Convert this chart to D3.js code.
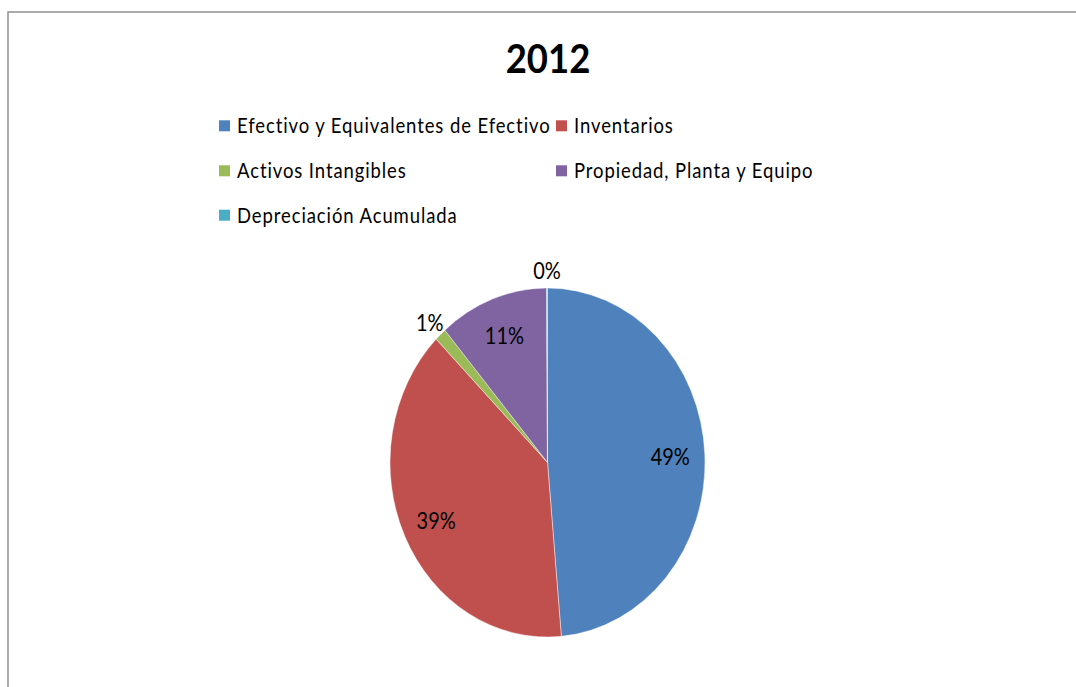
<!DOCTYPE html>
<html>
<head>
<meta charset="utf-8">
<script src="https://cdn.jsdelivr.net/npm/d3@7"></script>
<style>
  html, body { margin: 0; padding: 0; background: #fff; }
  svg { display: block; }
  text { font-family: Lato, "Open Sans", sans-serif; fill: #000; }
</style>
</head>
<body>
<svg id="chart" width="1076" height="687"></svg>
<script>
// Balance composition, 2012 (share of total, %)
const title = "2012";
const categories = [
  "Efectivo y Equivalentes de Efectivo",
  "Inventarios",
  "Activos Intangibles",
  "Propiedad, Planta y Equipo",
  "Depreciación Acumulada"
];
const values = [48.6, 38.9, 1.2, 11.2, 0.1];
const colors = ["#4F81BD", "#C0504D", "#9BBB59", "#8064A2", "#4BACC6"];

const W = 1076, H = 687;
const SY = 1.108;            // the chart is drawn slightly taller than wide
const cx = 547.5, cy = 462.5; // pie centre (screen px)
const R = 157.5;

const svg = d3.select("#chart");

// outer chart frame
svg.append("rect")
  .attr("x", 8).attr("y", 12)
  .attr("width", 1200).attr("height", 1000)
  .attr("fill", "#fff")
  .attr("stroke", "#898989")
  .attr("stroke-width", 1.4);

const g = svg.append("g").attr("transform", `scale(1,${SY})`);

// title
g.append("text")
  .attr("x", 548).attr("y", 72.7 / SY)
  .attr("text-anchor", "middle")
  .attr("font-weight", "bold")
  .attr("font-size", 36.5)
  .text(title);

// legend: two columns, three rows
const legendCols = [219, 556];
const legendRows = [133.3, 178.3, 222.7];
const legend = g.append("g").attr("class", "legend");
const items = legend.selectAll("g.item")
  .data(categories)
  .join("g")
  .attr("class", "item")
  .attr("transform", (d, i) => {
    const x = legendCols[i % 2];
    const y = legendRows[Math.floor(i / 2)] / SY;
    return `translate(${x},${y})`;
  });
items.append("rect")
  .attr("x", 0).attr("y", -13 / SY)
  .attr("width", 11).attr("height", 11 / SY)
  .attr("fill", (d, i) => colors[i]);
items.append("text")
  .attr("x", 18).attr("y", 0)
  .attr("font-size", 18.5)
  .attr("letter-spacing", 0.9)
  .text(d => d);

// pie
const total = d3.sum(values);
const pie = d3.pie().sort(null).value(d => d)(values);
const arc = d3.arc().innerRadius(0).outerRadius(R);

const pg = svg.append("g")
  .attr("transform", `translate(${cx},${cy}) scale(1,${SY})`);

pg.selectAll("path")
  .data(pie)
  .join("path")
  .attr("d", arc)
  .attr("fill", (d, i) => colors[i])
  .attr("stroke", "rgba(255,255,255,0.6)")
  .attr("stroke-width", 0.7);

// percentage labels: inside for larger slices, outside for thin ones
const fmt = d3.format(".0%");
pg.selectAll("text.pct")
  .data(pie)
  .join("text")
  .attr("class", "pct")
  .attr("text-anchor", "middle")
  .attr("dominant-baseline", "central")
  .attr("font-size", 20)
  .attr("transform", d => {
    const a = (d.startAngle + d.endAngle) / 2;
    const share = d.value / total;
    const k = share < 0.05 ? 1.10 : 0.78;
    return `translate(${Math.sin(a) * R * k},${-Math.cos(a) * R * k})`;
  })
  .text(d => fmt(d.value / total));
</script>
</body>
</html>
